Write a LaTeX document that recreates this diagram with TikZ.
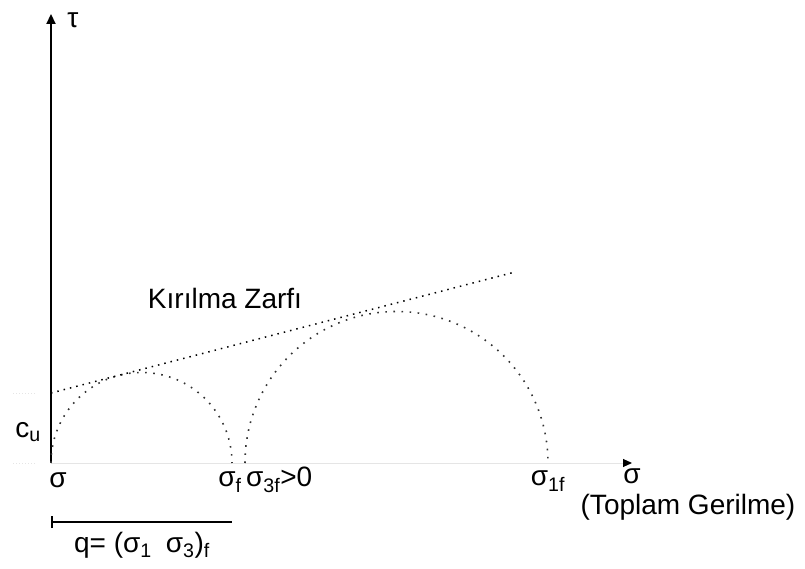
\documentclass[tikz,border=0pt]{standalone}
\usepackage{fontspec}
\setmainfont{Liberation Sans}
\usetikzlibrary{arrows.meta,positioning}

\begin{document}
\begin{tikzpicture}[x=1pt,y=1pt,
  lbl/.style={font=\fontsize{28}{32}\selectfont,inner sep=1pt},
  zarf/.style={line width=1.5pt,dash pattern=on 1.5pt off 5pt},
  daire/.style={line width=1.6pt,black!80,dash pattern=on 1.6pt off 6.5pt},
  soluk/.style={black!10,line width=1pt}]
  \useasboundingbox (0,0) rectangle (805,568);
  % eksenler
  \coordinate (O) at (51,105);
  \coordinate (T) at (51,554);
  \coordinate (S) at (632,105);
  \draw[soluk,-{Triangle[black,length=9pt,width=8pt]}] (O) -- (S);
  \draw[line width=2.2pt,-{Triangle[length=10pt,width=9pt]}] (O) -- (T);
  \node[lbl] (tau) at (73,548) {τ};
  % Mohr daireleri
  \draw[daire] (O) arc[start angle=180,end angle=0,radius=90.5];
  \coordinate (A) at (245,105);
  \draw[daire] (A) arc[start angle=180,end angle=0,radius=151.5];
  % kirilma zarfi
  \coordinate (C) at (51,175);
  \coordinate (Z) at (515,296);
  \draw[zarf] (C) -- (Z);
  \node[lbl] (zarfi) at (225,270) {Kırılma Zarfı};
  % c_u
  \coordinate (cu1) at (13,175);
  \coordinate (cu2) at (13,105);
  \draw[soluk,dotted] (cu1) -- ++(24,0);
  \draw[soluk,dotted] (cu2) -- ++(24,0);
  \node[lbl] (cu) at (28,136) {c\textsubscript{u}};
  % eksen etiketleri
  \node[lbl] (s0) at (58,88) {σ};
  \node[lbl] (sf) at (230,86) {σ\textsubscript{f}};
  \node[lbl,anchor=west] (s3) at (245,88) {σ\textsubscript{3f}>0};
  \node[lbl] (s1) at (548,87) {σ\textsubscript{1f}};
  \node[lbl,inner sep=0pt] (s) at (632,92) {σ};
  \node[lbl,inner sep=0pt] (top) at (688,61) {(Toplam Gerilme)};
  % deviatorik gerilme
  \coordinate (q1) at (51,46);
  \coordinate (q2) at (232,46);
  \draw[line width=1.6pt,{Bar[width=12pt]}-] (q1) -- (q2);
  \node[lbl] (q) at (142,23) {q= (σ\textsubscript{1}\enspace σ\textsubscript{3})\textsubscript{f}};
\end{tikzpicture}
\end{document}
